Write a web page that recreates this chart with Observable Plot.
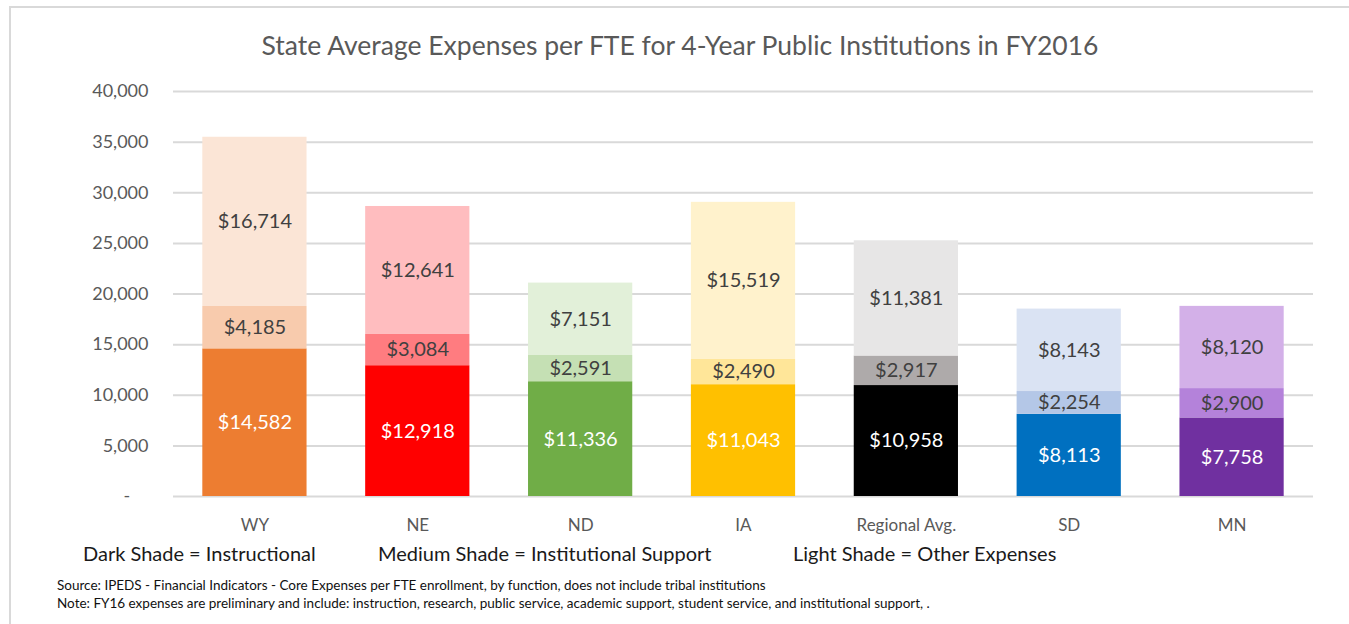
<!DOCTYPE html>
<html>
<head>
<meta charset="utf-8">
<script src="https://cdn.jsdelivr.net/npm/d3@7"></script>
<script src="https://cdn.jsdelivr.net/npm/@observablehq/plot@0.6"></script>
<style>
  html, body { margin: 0; padding: 0; background: #fff; }
  body { width: 1349px; height: 624px; position: relative; overflow: hidden; font-family: Lato, "Open Sans", sans-serif; }
  #frame { position: absolute; left: 9px; top: 6px; width: 1400px; height: 700px; border-left: 2px solid #d9d9d9; border-top: 2px solid #d9d9d9; }
  #chart { position: absolute; left: 0; top: 0; }
  .title { position: absolute; left: 0; width: 1360px; top: 29px; text-align: center; font-size: 26.5px; color: #595959; }
  .legend { position: absolute; top: 541px; font-size: 20px; color: #1a1a1a; white-space: nowrap; }
  .note { position: absolute; left: 57px; font-size: 13.5px; color: #111; white-space: nowrap; }
</style>
</head>
<body>
<div id="frame"></div>
<div id="chart"></div>
<div class="title">State Average Expenses per FTE for 4-Year Public Institutions in FY2016</div>
<div class="legend" style="left:83px">Dark Shade = Instructional</div>
<div class="legend" style="left:378px">Medium Shade = Institutional Support</div>
<div class="legend" style="left:793px">Light Shade = Other Expenses</div>
<div class="note" style="top:577px">Source: IPEDS - Financial Indicators - Core Expenses per FTE enrollment, by function, does not include tribal institutions</div>
<div class="note" style="top:595px">Note: FY16 expenses are preliminary and include: instruction, research, public service, academic support, student service, and institutional support, .</div>
<script>
const states = ["WY", "NE", "ND", "IA", "Regional Avg.", "SD", "MN"];
const instructional = [14582, 12918, 11336, 11043, 10958, 8113, 7758];
const support = [4185, 3084, 2591, 2490, 2917, 2254, 2900];
const other = [16714, 12641, 7151, 15519, 11381, 8143, 8120];
const darkColors = ["#ED7D31", "#FF0000", "#70AD47", "#FFC000", "#000000", "#0070C0", "#7030A0"];
const mediumColors = ["#F8CBAD", "#FF7C80", "#C5E0B4", "#FFE699", "#AEAAAA", "#B4C7E7", "#B482DA"];
const lightColors = ["#FBE5D6", "#FFBDBF", "#E2F0D9", "#FFF2CC", "#E7E6E6", "#DAE3F3", "#D3B0E8"];
const yTicks = [0, 5000, 10000, 15000, 20000, 25000, 30000, 35000, 40000];

const rows = [];
states.forEach((s, i) => {
  rows.push({state: s, part: "Instructional", value: instructional[i], color: darkColors[i], ink: "#ffffff"});
  rows.push({state: s, part: "Institutional Support", value: support[i], color: mediumColors[i], ink: "#404040"});
  rows.push({state: s, part: "Other Expenses", value: other[i], color: lightColors[i], ink: "#404040"});
});

const fmt = d3.format(",");
const chart = Plot.plot({
  width: 1349,
  height: 540,
  marginLeft: 173,
  marginRight: 36,
  marginTop: 91,
  marginBottom: 44,
  style: {fontFamily: "Lato, 'Open Sans', sans-serif", background: "transparent"},
  x: {domain: states, paddingInner: 0.36, paddingOuter: 0.18, round: false, label: null, tickSize: 0, tickPadding: 22},
  y: {domain: [0, 40000], ticks: yTicks, label: null, tickSize: 0, tickPadding: 25,
      tickFormat: d => d === 0 ? "-\u00a0\u00a0\u00a0\u00a0" : fmt(d)},
  color: {type: "identity"},
  marks: [
    Plot.ruleY(yTicks, {stroke: "#d9d9d9", strokeWidth: 2}),
    Plot.barY(rows, Plot.stackY({x: "state", y: "value", fill: "color"})),
    Plot.text(rows, Plot.stackY({x: "state", y: "value", text: d => "$" + fmt(d.value), fill: "ink", fontSize: 20})),
    Plot.axisX({tickSize: 0, tickPadding: 22, fontSize: 17, color: "#595959"}),
    Plot.axisY({ticks: yTicks, tickSize: 0, tickPadding: 25, fontSize: 18, color: "#595959",
      tickFormat: d => d === 0 ? "-\u00a0\u00a0\u00a0\u00a0" : fmt(d)})
  ]
});
document.getElementById("chart").appendChild(chart);
</script>
</body>
</html>
